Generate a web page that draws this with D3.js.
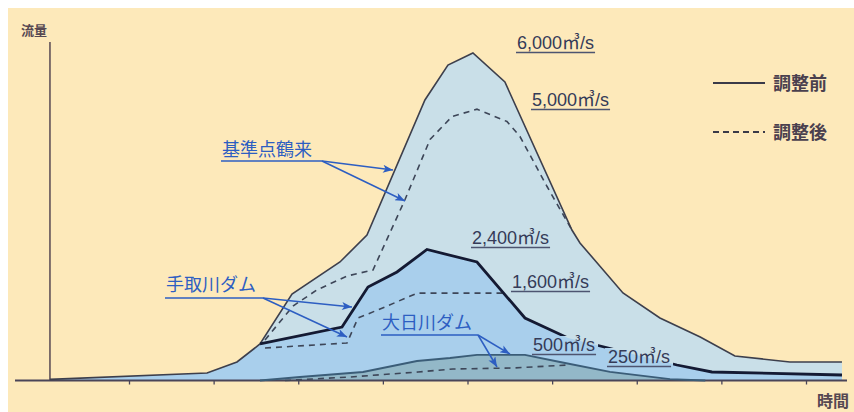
<!DOCTYPE html>
<html><head><meta charset="utf-8">
<script src="https://cdn.jsdelivr.net/npm/d3@7"></script>
<style>html,body{margin:0;padding:0;background:#fff;} svg{display:block}</style>
</head><body>
<svg id="c" width="854" height="412"></svg>
<script>
// ---- data (time units, m3/s) ----
const timeTicks = [1, 2, 3, 4, 5, 6, 7, 8, 9];
const kijunBefore = [[0.066,20],[1.922,137],[2.276,339],[2.548,669],[2.926,1585],[3.493,2171],[3.812,2666],[4.497,5139],[4.769,5780],[5.064,6000],[5.442,5469],[6.234,2757],[6.329,2520],[6.837,1603],[7.274,1145],[7.75,797],[8.16,449],[8.81,339],[9.425,339]];
const kijunAfter = [[2.607,742],[2.938,1365],[3.22,1658],[3.576,1914],[3.883,2024],[4.262,3316],[4.557,4415],[4.817,4836],[5.112,4970],[5.466,4745],[5.62,4470],[5.94,3554],[6.234,2757]];
const tedoriBefore = [[2.548,669],[3.517,980],[3.824,1713],[4.167,1988],[4.521,2400],[5.112,2171],[5.679,1145],[6.187,778],[7.475,284],[7.888,156],[9.425,101]];
const tedoriAfter = [[2.607,595],[3.576,687],[3.706,1145],[4.025,1347],[4.403,1600],[5.442,1600]];
const oohiBefore = [[2.548,0],[3.02,64],[3.765,156],[4.403,357],[4.793,412],[5.112,470],[5.679,470],[6.093,339],[6.684,156],[7.393,27],[7.81,0]];
const oohiAfter = [[2.843,0],[3.612,64],[4.415,156],[4.828,211],[5.537,229],[6.187,284]];
const peakLabels = ["6,000㎥/s","5,000㎥/s","2,400㎥/s","1,600㎥/s","500㎥/s","250㎥/s"];
const damNames = ["基準点鶴来","手取川ダム","大日川ダム"];
const legendLabels = ["調整前","調整後"];
const axisLabels = ["流量","時間"];

// ---- layout / style ----
const W = 854, H = 412;
const C = {bg:"#fde9ba", light:"#c9dfe8", mid:"#a9cfec", teal:"#93b8c8",
  outer:"#3d3f4c", tedori:"#141a33", oohi:"#3b5d78", dash:"#3d4658",
  label:"#353b58", blue:"#2d5ec2", axis:"#4a4558", title:"#564852"};
const peakPos = [[517,49],[532,106],[472,244],[512,288],[533,351],[608,363]];
const damPos = [[222,156],[166,291],[382,329]];
const arrows = [
  {from:[322,161], to:[[393,170],[405,201]]},
  {from:[263,298], to:[[352,307],[347,337]]},
  {from:[478,335], to:[[510,354],[497,367]]}
];

const svg = d3.select("#c");
const x = d3.scaleLinear().domain([0, 10]).range([44.375, 890.625]);
const y = d3.scaleLinear().domain([0, 6000]).range([380.5, 53]);

svg.append("rect").attr("x",8).attr("y",8).attr("width",W-8).attr("height",H-8).attr("fill",C.bg);

const defs = svg.append("defs");
defs.append("marker").attr("id","ah").attr("viewBox","0 0 10 8")
  .attr("refX",10).attr("refY",4).attr("markerWidth",11).attr("markerHeight",8)
  .attr("markerUnits","userSpaceOnUse").attr("orient","auto")
  .append("path").attr("d","M0,0 L10,4 L0,8 L2.5,4 z").attr("fill",C.blue);
const mask = defs.append("mask").attr("id","lblmask").attr("maskUnits","userSpaceOnUse")
  .attr("x",0).attr("y",0).attr("width",W).attr("height",H);
mask.append("rect").attr("width",W).attr("height",H).attr("fill","#fff");

const area = d3.area().x(d=>x(d[0])).y0(y(0)).y1(d=>y(d[1]));
const line = d3.line().x(d=>x(d[0])).y(d=>y(d[1]));

// fills
svg.append("path").datum(kijunBefore).attr("d",area).attr("fill",C.light);
const tedoriArea = kijunBefore.filter(d=>d[0] < tedoriBefore[0][0]).concat(tedoriBefore);
svg.append("path").datum(tedoriArea).attr("d",area).attr("fill",C.mid);
svg.append("path").datum(oohiBefore).attr("d",area).attr("fill",C.teal);

// axes
svg.append("line").attr("x1",x(0.066)).attr("x2",x(0.066)).attr("y1",y(0)).attr("y2",y(6200))
  .attr("stroke",C.title).attr("stroke-width",1.5);
const xAxis = d3.axisBottom(x).tickValues(timeTicks).tickSize(4).tickFormat("");
const gx = svg.append("g").attr("transform",`translate(0,${y(0)})`).call(xAxis);
gx.select(".domain").remove();
gx.selectAll(".tick line").attr("stroke",C.axis).attr("stroke-width",1.3);
svg.append("line").attr("x1",15).attr("x2",847).attr("y1",y(0)).attr("y2",y(0))
  .attr("stroke",C.axis).attr("stroke-width",2);

// lines
svg.append("path").datum(oohiAfter).attr("d",line).attr("fill","none")
  .attr("stroke",C.dash).attr("stroke-width",1.6).attr("stroke-dasharray","6,5");
svg.append("path").datum(oohiBefore).attr("d",line).attr("fill","none")
  .attr("stroke",C.oohi).attr("stroke-width",1.8);
svg.append("path").datum(tedoriAfter).attr("d",line).attr("fill","none")
  .attr("stroke",C.dash).attr("stroke-width",1.6).attr("stroke-dasharray","6,5");
svg.append("path").datum(kijunAfter).attr("d",line).attr("fill","none")
  .attr("stroke",C.dash).attr("stroke-width",1.6).attr("stroke-dasharray","6,5");
svg.append("path").datum(kijunBefore).attr("d",line).attr("fill","none")
  .attr("stroke",C.outer).attr("stroke-width",1.6);
svg.append("path").datum(tedoriBefore).attr("d",line).attr("fill","none")
  .attr("stroke",C.tedori).attr("stroke-width",2.8).attr("mask","url(#lblmask)");

// peak labels
peakLabels.forEach((t,i)=>{
  const [px,py] = peakPos[i];
  const tx = svg.append("text").attr("x",px).attr("y",py).text(t)
    .attr("font-family","'Liberation Sans','Noto Sans CJK JP',sans-serif")
    .attr("font-size",18).attr("fill",C.label);
  const w = tx.node().getComputedTextLength();
  svg.append("line").attr("x1",px-1).attr("x2",px+w+1).attr("y1",py+3.5).attr("y2",py+3.5)
    .attr("stroke","#4d5470").attr("stroke-width",1.4);
  mask.append("rect").attr("x",px-3).attr("y",py-15).attr("width",w+6).attr("height",19).attr("fill","#000");
});

// dam labels + arrows
damNames.forEach((t,i)=>{
  const [px,py] = damPos[i];
  const tx = svg.append("text").attr("x",px).attr("y",py).text(t)
    .attr("font-family","'Noto Sans CJK JP',sans-serif").attr("font-size",18).attr("fill",C.blue);
  const a = arrows[i];
  svg.append("line").attr("x1",px-1).attr("x2",a.from[0]).attr("y1",a.from[1]).attr("y2",a.from[1])
    .attr("stroke",C.blue).attr("stroke-width",1.6);
  a.to.forEach(p=>{
    svg.append("line").attr("x1",a.from[0]).attr("y1",a.from[1]).attr("x2",p[0]).attr("y2",p[1])
      .attr("stroke",C.blue).attr("stroke-width",1.5).attr("marker-end","url(#ah)");
  });
});

// legend
const leg = [[83,null],[132,"6,4"]];
legendLabels.forEach((t,i)=>{
  const ly = leg[i][0];
  const l = svg.append("line").attr("x1",713).attr("x2",765).attr("y1",ly).attr("y2",ly)
    .attr("stroke","#3a3a48").attr("stroke-width",2);
  if (leg[i][1]) l.attr("stroke-dasharray",leg[i][1]);
  svg.append("text").attr("x",773).attr("y",ly+7).text(t)
    .attr("font-family","'Noto Sans CJK JP',sans-serif").attr("font-weight","bold")
    .attr("font-size",18).attr("fill","#4a404e");
});

// axis titles
svg.append("text").attr("x",21).attr("y",35).text(axisLabels[0])
  .attr("font-family","'Noto Sans CJK JP',sans-serif").attr("font-weight","bold")
  .attr("font-size",13).attr("fill",C.title);
svg.append("text").attr("x",817).attr("y",407).text(axisLabels[1])
  .attr("font-family","'Noto Sans CJK JP',sans-serif").attr("font-weight","bold")
  .attr("font-size",16).attr("fill",C.title);
</script>
</body></html>
